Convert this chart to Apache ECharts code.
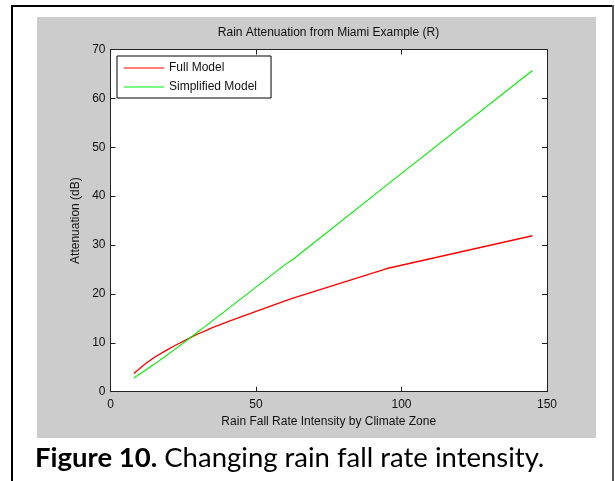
<!DOCTYPE html>
<html>
<head>
<meta charset="utf-8">
<script src="https://cdn.jsdelivr.net/npm/echarts@6/dist/echarts.min.js"></script>
<style>
html,body{margin:0;padding:0;background:#fff;}
#chart{width:615px;height:481px;}
</style>
</head>
<body>
<div id="chart"></div>
<script>
// Rain rates by climate zone (mm/h)
var rainRates = [8, 12, 15, 19, 22, 28, 30, 32, 35, 42, 60, 63, 95, 145];
// Full model attenuation (dB)
var fullModel = [3.7, 5.7, 7.0, 8.4, 9.4, 11.2, 11.8, 12.3, 13.1, 14.7, 18.6, 19.2, 25.2, 31.9];
// Simplified model attenuation (dB)
var simplifiedModel = [2.8, 4.4, 5.6, 7.3, 8.6, 11.3, 12.2, 13.1, 14.5, 17.7, 26.0, 27.2, 42.3, 65.7];
var xTicks = [0, 50, 100, 150];
var yTicks = [0, 10, 20, 30, 40, 50, 60, 70];

var chartTitle = 'Rain Attenuation from Miami Example (R)';
var xName = 'Rain Fall Rate Intensity by Climate Zone';
var yName = 'Attenuation (dB)';
var seriesNames = ['Full Model', 'Simplified Model'];

function pairs(xs, ys) { return xs.map(function (x, i) { return [x, ys[i]]; }); }

var FONT = 'Liberation Sans, Arial, sans-serif';
var axisColor = '#222';

var chart = echarts.init(document.getElementById('chart'), null, {renderer: 'canvas'});

var baseX = {
  type: 'value', min: xTicks[0], max: xTicks[xTicks.length - 1], interval: xTicks[1] - xTicks[0],
  axisLine: {show: true, onZero: false, lineStyle: {color: axisColor, width: 1}},
  axisTick: {show: true, inside: true, length: 5, lineStyle: {color: axisColor}},
  splitLine: {show: false}
};
var baseY = {
  type: 'value', min: yTicks[0], max: yTicks[yTicks.length - 1], interval: yTicks[1] - yTicks[0],
  axisLine: {show: true, onZero: false, lineStyle: {color: axisColor, width: 1}},
  axisTick: {show: true, inside: true, length: 5, lineStyle: {color: axisColor}},
  splitLine: {show: false}
};

var option = {
  backgroundColor: '#fff',
  animation: false,
  title: {
    text: chartTitle, left: 328.5, top: 27, textAlign: 'center', padding: 0,
    textStyle: {fontFamily: FONT, fontSize: 12, fontWeight: 'normal', color: '#111'}
  },
  graphic: [
    {type: 'rect', z: -10, shape: {x: 37, y: 17, width: 559, height: 421}, style: {fill: '#cccccc'}},
    {type: 'rect', z: -10, shape: {x: 11, y: 5, width: 2, height: 476}, style: {fill: '#000'}},
    {type: 'rect', z: -10, shape: {x: 11, y: 5, width: 603, height: 2}, style: {fill: '#000'}},
    {type: 'rect', z: -10, shape: {x: 612, y: 5, width: 2, height: 476}, style: {fill: '#555'}},
    {type: 'text', left: 35, top: 444, style: {
      text: '{b|Figure 10.} Changing rain fall rate intensity.',
      font: '27.5px Lato, sans-serif', fill: '#000',
      rich: {b: {fontFamily: 'Lato, sans-serif', fontSize: 27.5, fontWeight: 'bold', fill: '#000'}}
    }}
  ],
  legend: {
    orient: 'vertical', left: 117, top: 56,
    data: seriesNames,
    backgroundColor: '#fff', borderColor: '#000', borderWidth: 1, borderRadius: 0,
    padding: [5, 14, 4, 7],
    itemWidth: 40, itemHeight: 1, itemGap: 5,
    icon: 'rect',
    textStyle: {fontFamily: FONT, fontSize: 12, color: '#111', lineHeight: 14, padding: [0, 0, 0, 0]},
    selectedMode: false
  },
  grid: {left: 110.5, right: 68, top: 49.5, bottom: 89.3, show: true, backgroundColor: '#fff', borderWidth: 0},
  xAxis: [
    Object.assign({}, baseX, {
      position: 'bottom', name: xName, nameLocation: 'middle', nameGap: 21,
      nameTextStyle: {fontFamily: FONT, fontSize: 12, color: '#111'},
      axisLabel: {show: true, margin: 7, fontFamily: FONT, fontSize: 12, color: '#111'}
    }),
    Object.assign({}, baseX, {position: 'top', axisLabel: {show: false}})
  ],
  yAxis: [
    Object.assign({}, baseY, {
      position: 'left', name: yName, nameLocation: 'middle', nameGap: 29,
      nameTextStyle: {fontFamily: FONT, fontSize: 12, color: '#111'},
      axisLabel: {show: true, margin: 5, fontFamily: FONT, fontSize: 12, color: '#111'}
    }),
    Object.assign({}, baseY, {position: 'right', axisLabel: {show: false}})
  ],
  series: [
    {name: seriesNames[0], type: 'line', data: pairs(rainRates, fullModel), showSymbol: false, symbol: 'none',
     lineStyle: {color: '#ff0000', width: 1.3}, itemStyle: {color: '#ff0000'}},
    {name: seriesNames[1], type: 'line', data: pairs(rainRates, simplifiedModel), showSymbol: false, symbol: 'none',
     lineStyle: {color: '#00ee00', width: 1.1}, itemStyle: {color: '#00ee00'}}
  ]
};
chart.setOption(option);
</script>
</body>
</html>
